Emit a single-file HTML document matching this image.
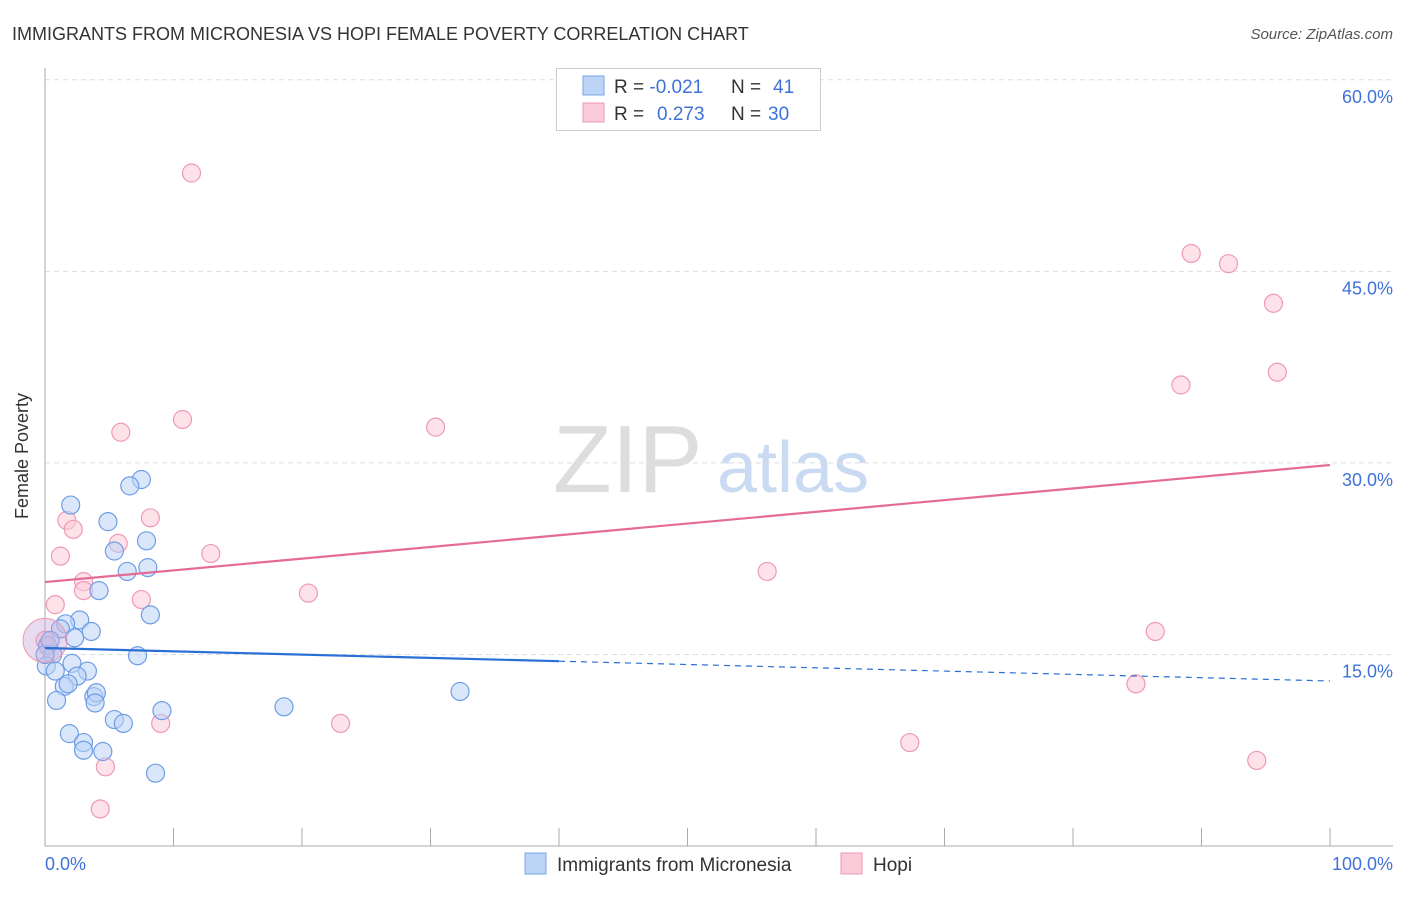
<!DOCTYPE html>
<html><head><meta charset="utf-8"><style>
body{margin:0;background:#fff;font-family:"Liberation Sans",sans-serif;}
svg text{font-family:"Liberation Sans",sans-serif;}
</style></head><body>
<svg id="c" width="1406" height="892" xmlns="http://www.w3.org/2000/svg">
<text x="12" y="40" font-size="18" fill="#333">IMMIGRANTS FROM MICRONESIA VS HOPI FEMALE POVERTY CORRELATION CHART</text>
<text x="1393" y="39" font-size="15" fill="#555" font-style="italic" text-anchor="end">Source: ZipAtlas.com</text>
<g>
<text x="553" y="492" font-size="96" fill="#ddd" font-family="Liberation Serif,serif">ZIP</text>
<text x="717" y="492" font-size="72" fill="#c9daf2">atlas</text>
</g>
<g id="grid"></g><g id="axes"></g><g id="pts"></g><g id="trend"></g>
<g>
<rect x="556.5" y="68.5" width="264" height="62" fill="#fff" stroke="#ccc"/>
<rect x="583" y="76" width="21" height="19" fill="#bcd4f6" stroke="#7aa6e6"/>
<rect x="583" y="103" width="21" height="19" fill="#fbcbd9" stroke="#ee9ab5"/>
<text x="614" y="93" font-size="19" fill="#333">R = <tspan fill="#3f72d8">-0.021</tspan><tspan x="731">N = </tspan><tspan fill="#3f72d8" x="773">41</tspan></text>
<text x="614" y="120" font-size="19" fill="#333">R = <tspan fill="#3f72d8" x="657">0.273</tspan><tspan x="731">N = </tspan><tspan fill="#3f72d8" x="768">30</tspan></text>
</g>
<g>
<rect x="525" y="853" width="21" height="21" fill="#bcd4f6" stroke="#7aa6e6"/>
<text x="557" y="871" font-size="19" fill="#333">Immigrants from Micronesia</text>
<rect x="841" y="853" width="21" height="21" fill="#fbcbd9" stroke="#ee9ab5"/>
<text x="873" y="871" font-size="19" fill="#333">Hopi</text>
</g>
<text x="28" y="456" font-size="18" fill="#333" transform="rotate(-90 28 456)" text-anchor="middle">Female Poverty</text>
</svg>
<script>
const blueX=[2.0,7.5,6.6,4.9,5.4,7.9,6.4,8.0,4.2,8.2,2.7,1.6,3.6,1.2,2.3,0.2,0.6,0.1,2.1,3.3,0.8,2.5,1.5,1.8,3.8,4.0,3.9,0.9,7.2,5.4,6.1,9.1,1.9,3.0,3.0,4.5,8.6,18.6,32.3,0,0.4];
const blueY=[26.7,28.7,28.2,25.4,23.1,23.9,21.5,21.8,20.0,18.1,17.7,17.4,16.8,17.0,16.3,15.7,15.0,14.1,14.3,13.7,13.7,13.3,12.5,12.7,11.7,12.0,11.2,11.4,14.9,9.9,9.6,10.6,8.8,8.1,7.5,7.4,5.7,10.9,12.1,15.0,16.1];
const pinkX=[11.4,89.2,92.1,95.6,95.9,88.4,10.7,5.9,30.4,1.7,8.2,2.2,1.2,5.7,12.9,56.2,3.0,3.0,7.5,0.8,20.5,86.4,0,84.9,23.0,9.0,67.3,4.7,94.3,4.3];
const pinkY=[52.7,46.4,45.6,42.5,37.1,36.1,33.4,32.4,32.8,25.5,25.7,24.8,22.7,23.7,22.9,21.5,20.7,20.0,19.3,18.9,19.8,16.8,16.1,12.7,9.6,9.6,8.1,6.2,6.7,2.9];
const yTicks=[15,30,45,60];
const yTickLabels=["15.0%","30.0%","45.0%","60.0%"];
const xTicks=[0,10,20,30,40,50,60,70,80,90,100];
const NS="http://www.w3.org/2000/svg";
const sx=v=>45+v*12.85, sy=v=>846-v*12.77;
function mk(tag,attrs,parent){const e=document.createElementNS(NS,tag);for(const k in attrs)e.setAttribute(k,attrs[k]);document.getElementById(parent).appendChild(e);return e;}
yTicks.forEach((t,i)=>{
 const l=mk('line',{x1:45,x2:1393,y1:sy(t),y2:sy(t),stroke:'#ddd','stroke-dasharray':'5,4'},'grid');
 
 
 const tx=mk('text',{x:1393,y:sy(t)+23,'font-size':18,fill:'#3f72d8','text-anchor':'end'},'grid');
 tx.textContent=yTickLabels[i];
 
 
});
let a=mk('line',{x1:45,x2:45,y1:68,y2:846,stroke:'#aaa'},'axes');


a=mk('line',{x1:45,x2:1393,y1:846,y2:846,stroke:'#aaa'},'axes');


xTicks.forEach(t=>{const l=mk('line',{x1:sx(t),x2:sx(t),y1:828,y2:846,stroke:'#aaa'},'axes');
 
 });
let t0=mk('text',{x:45,y:870,'font-size':18,fill:'#3f72d8'},'axes');t0.textContent='0.0%';


t0=mk('text',{x:1393,y:870,'font-size':18,fill:'#3f72d8','text-anchor':'end'},'axes');t0.textContent='100.0%';


function pts(X,Y,fill,stroke,name){X.forEach((x,i)=>{const c=mk('circle',{cx:sx(x),cy:sy(Y[i]),r:9,fill:fill,'fill-opacity':0.55,stroke:stroke,'stroke-width':1.2},'pts');
 
 });}
pts(pinkX,pinkY,'#fbcbd9','#ee9ab5','hopi-point');
pts(blueX,blueY,'#bcd4f6','#6e9de6','micronesia-point');
const big=mk('circle',{cx:sx(0),cy:sy(16.1),r:22,fill:'#c9a6d6','fill-opacity':0.4,stroke:'#ee9ab5'},'pts');


function reg(X,Y){const n=X.length,mx=X.reduce((a,b)=>a+b)/n,my=Y.reduce((a,b)=>a+b)/n;let sxy=0,sxx=0;X.forEach((x,i)=>{sxy+=(x-mx)*(Y[i]-my);sxx+=(x-mx)**2;});const b=sxy/sxx;return [my-b*mx,b];}
const [pa,pb]=reg(pinkX,pinkY);
let l=mk('line',{x1:sx(0),y1:sy(pa),x2:sx(100),y2:sy(pa+pb*100),stroke:'#e56b95','stroke-width':2.2},'trend');


const [ba,bb]=reg(blueX,blueY);
const bmax=40;
l=mk('line',{x1:sx(0),y1:sy(ba),x2:sx(bmax),y2:sy(ba+bb*bmax),stroke:'#2a6fd6','stroke-width':2.2},'trend');


l=mk('line',{x1:sx(bmax),y1:sy(ba+bb*bmax),x2:sx(100),y2:sy(ba+bb*100),stroke:'#2a6fd6','stroke-width':1.2,'stroke-dasharray':'6,5'},'trend');


</script>
</body></html>
